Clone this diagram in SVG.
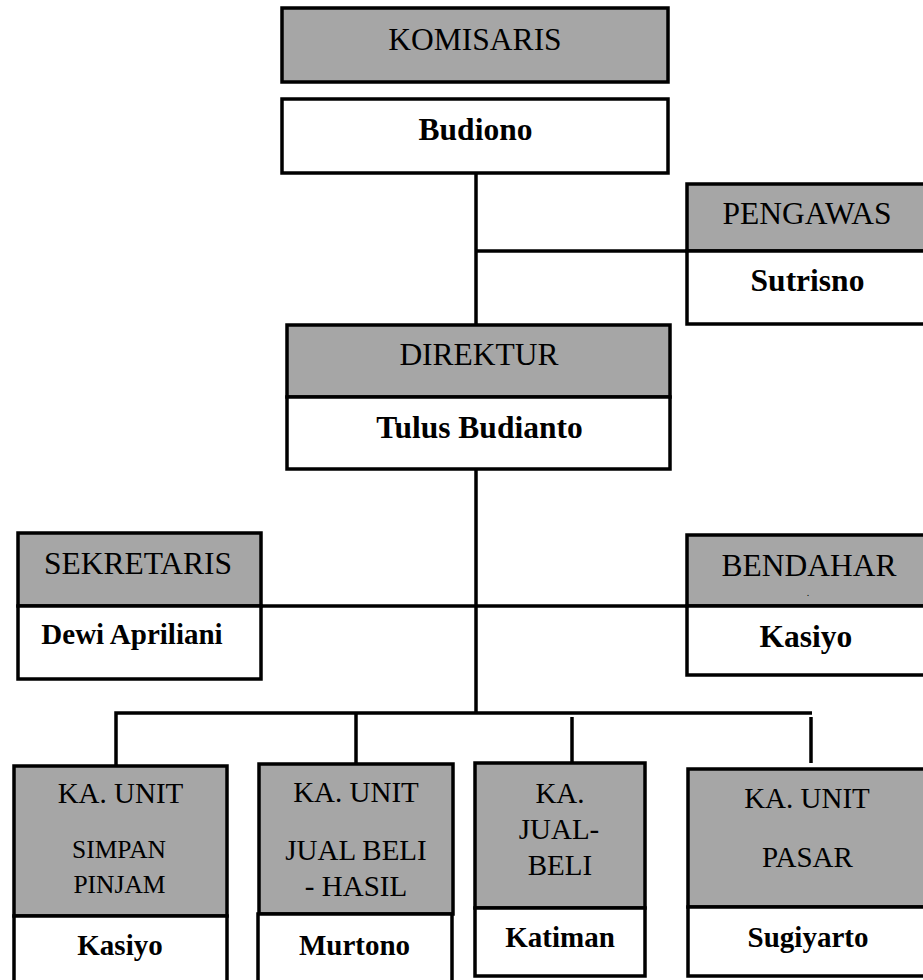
<svg xmlns="http://www.w3.org/2000/svg" width="923" height="980" viewBox="0 0 923 980">
<style>
.g{fill:#a6a6a6;stroke:#000;stroke-width:3.5}
.w{fill:#fff;stroke:#000;stroke-width:3.5}
.c{stroke:#000;stroke-width:3.5;fill:none}
text{fill:#000;text-anchor:middle}
.t{font-size:31.5px}
.n{font-size:31.5px;font-weight:bold}
.u{font-size:29px}
.s{font-size:25.5px}
.b{font-size:29px;font-weight:bold}
</style>
<rect width="923" height="980" fill="#fff"/>
<g id="connectors">
<line class="c" x1="476" y1="173" x2="476" y2="325"/>
<line class="c" x1="476" y1="251" x2="715" y2="251"/>
<line class="c" x1="476" y1="469" x2="476" y2="713"/>
<line class="c" x1="18" y1="606" x2="923" y2="606"/>
<polyline class="c" points="116,766 116,713 812,713"/>
<line class="c" x1="356" y1="713" x2="356" y2="764"/>
<line class="c" x1="572" y1="717" x2="572" y2="763"/>
<line class="c" x1="811" y1="717" x2="811" y2="763"/>
</g>
<g font-family="Liberation Serif, DejaVu Serif, serif">
<g id="komisaris">
<rect class="g" x="282" y="8" width="386" height="74"/>
<text class="t" x="475" y="50">KOMISARIS</text>
<rect class="w" x="282" y="99" width="386" height="74"/>
<text class="n" x="475.5" y="140">Budiono</text>
</g>
<g id="pengawas">
<rect class="g" x="687" y="184" width="250" height="67"/>
<rect class="w" x="687" y="251" width="250" height="73"/>
<text class="t" x="807" y="224">PENGAWAS</text>
<text class="n" x="807.5" y="291">Sutrisno</text>
</g>
<g id="direktur">
<rect class="g" x="287" y="325" width="383" height="72"/>
<rect class="w" x="287" y="397" width="383" height="72"/>
<text class="t" x="479" y="365">DIREKTUR</text>
<text class="n" x="479.5" y="438">Tulus Budianto</text>
</g>
<g id="sekretaris">
<rect class="g" x="18" y="533" width="243" height="73"/>
<rect class="w" x="18" y="606" width="243" height="73"/>
<text class="t" x="138" y="574">SEKRETARIS</text>
<text class="b" x="132" y="644">Dewi Apriliani</text>
</g>
<g id="bendahara">
<rect class="g" x="687" y="535" width="250" height="71"/>
<rect class="w" x="687" y="606" width="250" height="69"/>
<text class="t" x="809" y="576">BENDAHAR</text>
<text class="t" x="808" y="596" style="font-size:10px">.</text>
<text class="n" x="806" y="647">Kasiyo</text>
</g>
<g id="unit-simpan-pinjam">
<rect class="g" x="14" y="766" width="213" height="150"/>
<rect class="w" x="14" y="916" width="213" height="80"/>
<text class="u" x="120.5" y="803">KA. UNIT</text>
<text class="s" x="119" y="858">SIMPAN</text>
<text class="s" x="119.5" y="893">PINJAM</text>
<text class="b" x="120" y="955">Kasiyo</text>
</g>
<g id="unit-jual-beli-hasil">
<rect class="g" x="259" y="764" width="194" height="150"/>
<rect class="w" x="258" y="914" width="194" height="80"/>
<text class="u" x="356" y="802">KA. UNIT</text>
<text class="u" x="356" y="860">JUAL BELI</text>
<text class="u" x="356" y="896">- HASIL</text>
<text class="b" x="354.5" y="955">Murtono</text>
</g>
<g id="jual-beli">
<rect class="g" x="475" y="763" width="170" height="145"/>
<rect class="w" x="475" y="908" width="170" height="68"/>
<text class="u" x="560" y="803">KA.</text>
<text class="u" x="559" y="839">JUAL-</text>
<text class="u" x="560" y="875">BELI</text>
<text class="b" x="560" y="947">Katiman</text>
</g>
<g id="unit-pasar">
<rect class="g" x="688" y="769" width="250" height="138"/>
<rect class="w" x="688" y="907" width="250" height="69"/>
<text class="u" x="807" y="808">KA. UNIT</text>
<text class="u" x="807.5" y="867">PASAR</text>
<text class="b" x="808" y="947">Sugiyarto</text>
</g>
</g>
</svg>
